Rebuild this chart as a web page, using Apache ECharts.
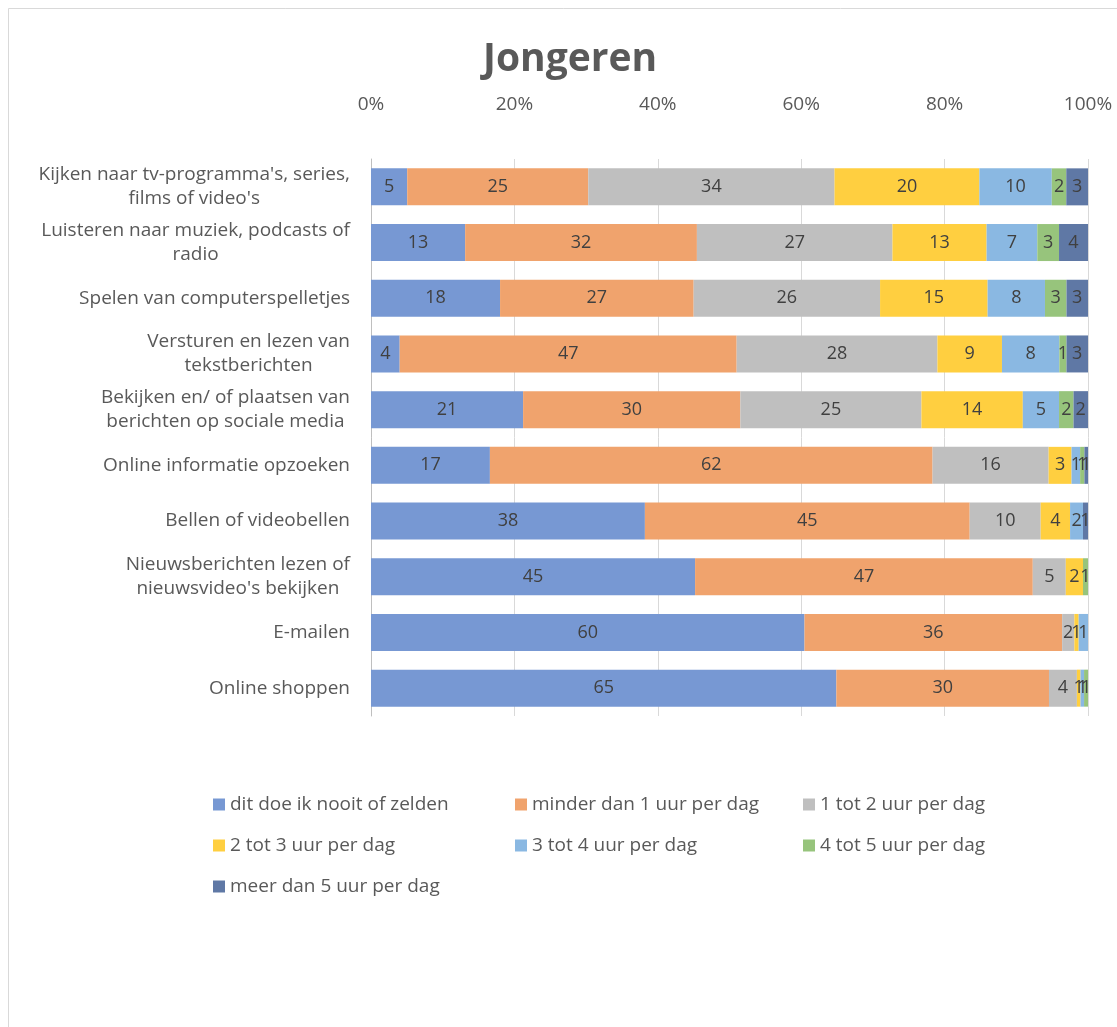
<!DOCTYPE html>
<html>
<head>
<meta charset="utf-8">
<script src="https://cdn.jsdelivr.net/npm/echarts@6/dist/echarts.min.js"></script>
<style>html,body{margin:0;padding:0;background:#fff;}#c{width:1117px;height:1027px;}</style>
</head>
<body>
<div id="c"></div>
<script>
const categories = [
  "Kijken naar tv-programma's, series,\nfilms of video's",
  "Luisteren naar muziek, podcasts of\nradio",
  "Spelen van computerspelletjes",
  "Versturen en lezen van\ntekstberichten",
  "Bekijken en/ of plaatsen van\nberichten op sociale media",
  "Online informatie opzoeken",
  "Bellen of videobellen",
  "Nieuwsberichten lezen of\nnieuwsvideo's bekijken",
  "E-mailen",
  "Online shoppen"
];
const seriesNames = [
  "dit doe ik nooit of zelden",
  "minder dan 1 uur per dag",
  "1 tot 2 uur per dag",
  "2 tot 3 uur per dag",
  "3 tot 4 uur per dag",
  "4 tot 5 uur per dag",
  "meer dan 5 uur per dag"
];
const nooit    = [5, 13, 18, 4, 21, 16.6, 38.2, 45.2, 60.4, 65];
const minder1  = [25, 32, 27, 47, 30, 61.8, 45.3, 47.1, 35.9, 29.7];
const uur1tot2 = [34, 27, 26, 28, 25, 16.2, 9.9, 4.6, 1.7, 3.9];
const uur2tot3 = [20, 13, 15, 9, 14, 3.2, 4.1, 2.4, 0.6, 0.5];
const uur3tot4 = [10, 7, 8, 8, 5, 1.2, 1.8, 0, 1.3, 0.5];
const uur4tot5 = [2, 3, 3, 1, 2, 0.6, 0, 0.7, 0, 0.55];
const meer5    = [3, 4, 3, 3, 2, 0.5, 0.7, 0, 0, 0];
const tickLabels = ["0%", "20%", "40%", "60%", "80%", "100%"];
const colors = ["#7798d3", "#f0a36d", "#bfbfbf", "#ffcf40", "#8ab8e2", "#97c47c", "#5f78a5"];

const raw = [nooit, minder1, uur1tot2, uur2tot3, uur3tot4, uur4tot5, meer5];
const totals = categories.map((_, i) => raw.reduce((s, a) => s + a[i], 0));

const series = raw.map((arr, k) => ({
  name: seriesNames[k],
  type: 'bar',
  stack: 'total',
  barWidth: 37,
  itemStyle: { color: colors[k] },
  label: {
    show: true,
    position: 'inside',
    color: '#404040',
    fontSize: 18,
    fontFamily: 'Open Sans',
    formatter: p => (arr[p.dataIndex] > 0 ? String(Math.round(arr[p.dataIndex])) : '')
  },
  data: arr.map((v, i) => v / totals[i] * 100)
}));

function wrapLabel(v) {
  return v.split('\n').map(l => '{c|' + l + '}').join('\n');
}

const legendBase = {
  orient: 'vertical',
  itemWidth: 12,
  itemHeight: 12,
  itemGap: 22,
  icon: 'rect',
  textStyle: { color: '#595959', fontSize: 19, fontFamily: 'Open Sans' }
};

const chart = echarts.init(document.getElementById('c'));
chart.setOption({
  animation: false,
  backgroundColor: '#fff',
  title: {
    text: 'Jongeren',
    left: 478,
    top: 35,
    textStyle: { color: '#595959', fontSize: 39, fontWeight: 'bold', fontFamily: 'Open Sans' }
  },
  graphic: [{
    type: 'rect',
    shape: { x: 8.5, y: 8.5, width: 1130, height: 1040 },
    style: { fill: 'none', stroke: '#d9d9d9', lineWidth: 1 },
    silent: true
  }],
  legend: [
    Object.assign({}, legendBase, { left: 208, top: 790, data: [seriesNames[0], seriesNames[3], seriesNames[6]] }),
    Object.assign({}, legendBase, { left: 510, top: 790, data: [seriesNames[1], seriesNames[4]] }),
    Object.assign({}, legendBase, { left: 798, top: 790, data: [seriesNames[2], seriesNames[5]] })
  ],
  grid: { left: 371, right: 29, top: 159, bottom: 311, containLabel: false },
  xAxis: {
    type: 'value',
    position: 'top',
    min: 0,
    max: 100,
    interval: 20,
    axisLine: { show: false },
    axisTick: { show: false },
    splitLine: { show: true, lineStyle: { color: '#d9d9d9' } },
    axisLabel: {
      color: '#595959',
      fontSize: 19,
      fontFamily: 'Open Sans',
      margin: 45,
      formatter: v => tickLabels[Math.round(v / 20)]
    }
  },
  yAxis: {
    type: 'category',
    inverse: true,
    data: categories,
    axisLine: { show: true, lineStyle: { color: '#bfbfbf' } },
    axisTick: { show: false },
    axisLabel: {
      color: '#595959',
      fontSize: 19,
      fontFamily: 'Open Sans',
      margin: 21,
      lineHeight: 24,
      formatter: wrapLabel,
      rich: { c: { align: 'center', fontSize: 19, color: '#595959', fontFamily: 'Open Sans', lineHeight: 24 } }
    }
  },
  series: series
});
</script>
</body>
</html>
